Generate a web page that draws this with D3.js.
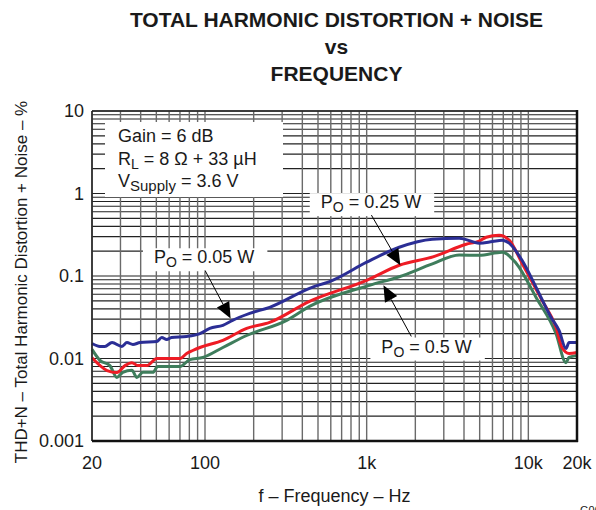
<!DOCTYPE html>
<html>
<head>
  <meta charset="utf-8">
  <title>THD+N vs Frequency</title>
  <script src="https://d3js.org/d3.v7.min.js"></script>
  <style>
    body { margin: 0; background: #fff; }
    text { font-family: "Liberation Sans", Arial, sans-serif; fill: #1a1a1a; }
  </style>
</head>
<body>
<svg class="chart"></svg>
<script>

// Chart values
const xTickValues = [20, 100, 1000, 10000, 20000];
const xTickLabels = ["20", "100", "1k", "10k", "20k"];
const yTickValues = [10, 1, 0.1, 0.01, 0.001];
const yTickLabels = ["10", "1", "0.1", "0.01", "0.001"];

// PO = 0.05 W (blue)
const blueFreq = [20, 22.4, 24, 26.6, 30.6, 32.9, 35.8, 39.6, 50.4, 54, 58, 62, 77, 93, 107, 129, 148, 189, 251, 443, 615, 1000, 1590, 2550, 3740, 4970, 6000, 6890, 7610, 9140, 11170, 13830, 15490, 17100, 17860, 20000];
const blueThd  = [0.0152, 0.014, 0.014, 0.0156, 0.014, 0.0156, 0.0148, 0.0156, 0.0161, 0.018, 0.017, 0.018, 0.0185, 0.020, 0.0232, 0.0252, 0.029, 0.0352, 0.0417, 0.0709, 0.0887, 0.147, 0.223, 0.279, 0.287, 0.25, 0.262, 0.272, 0.25, 0.155, 0.0729, 0.0315, 0.0219, 0.0132, 0.0156, 0.0156];

// PO = 0.25 W (red)
const redFreq = [20, 24.8, 28.5, 32, 35.3, 38.5, 43.7, 50.4, 70, 77, 84, 93, 129, 181, 251, 443, 1000, 1590, 2600, 4130, 4970, 5490, 6600, 7610, 9140, 12160, 14840, 16160, 17860, 20000];
const redThd  = [0.0102, 0.00715, 0.00676, 0.0082, 0.0089, 0.0082, 0.0082, 0.010, 0.010, 0.0115, 0.0125, 0.0136, 0.0166, 0.0232, 0.0274, 0.0493, 0.0887, 0.135, 0.172, 0.243, 0.265, 0.295, 0.312, 0.272, 0.143, 0.0507, 0.0238, 0.0136, 0.0115, 0.0118];

// PO = 0.5 W (green)
const greenFreq = [20, 22.4, 25.8, 28.5, 31, 35.3, 37.9, 41.3, 47.6, 51, 70, 80.5, 97, 129, 181, 320, 443, 1040, 1590, 2550, 3740, 4970, 6890, 8400, 11170, 14840, 17100, 17860, 20000];
const greenThd  = [0.0129, 0.0095, 0.0082, 0.0059, 0.0068, 0.0072, 0.0059, 0.0068, 0.0068, 0.008, 0.008, 0.0097, 0.0103, 0.0136, 0.019, 0.029, 0.0428, 0.0771, 0.098, 0.14, 0.18, 0.178, 0.194, 0.143, 0.055, 0.020, 0.0089, 0.0103, 0.0109];

// Setting the size of the page and the plot frame
const W = 596, H = 510;
const plot = {left: 92, right: 577, top: 111, bottom: 441};

const svg = d3.select(".chart")
  .attr("width", W)
  .attr("height", H);

// Log scales for both axes
const x = d3.scaleLog().domain([20, 20000]).range([plot.left, plot.right]);
const y = d3.scaleLog().domain([0.001, 10]).range([plot.bottom, plot.top]);

// Title, three lines
const titleLines = ["TOTAL HARMONIC DISTORTION + NOISE", "vs", "FREQUENCY"];
svg.selectAll(".title")
  .data(titleLines)
  .join("text")
    .attr("class", "title")
    .attr("x", (plot.left + plot.right) / 2 + 2)
    .attr("y", (d, i) => 27 + i * 27)
    .attr("text-anchor", "middle")
    .style("font-size", "21px")
    .style("font-weight", "bold")
    .text(d => d);

// Grid: horizontal lines first (dark), then vertical (grey)
svg.append("g")
  .selectAll("line")
  .data(y.ticks())
  .join("line")
    .attr("x1", plot.left).attr("x2", plot.right)
    .attr("y1", d => y(d)).attr("y2", d => y(d))
    .style("stroke", "#222")
    .style("stroke-width", 1.1);

svg.append("g")
  .selectAll("line")
  .data(x.ticks())
  .join("line")
    .attr("x1", d => x(d)).attr("x2", d => x(d))
    .attr("y1", plot.top).attr("y2", plot.bottom)
    .style("stroke", "#6a6a6a")
    .style("stroke-width", 1.4);

// Legend box with the test conditions
const cond = svg.append("g");
cond.append("rect")
  .attr("x", plot.left + 13).attr("y", plot.top + 11)
  .attr("width", 178).attr("height", 75)
  .style("fill", "#fff");
const condText = cond.append("text").style("font-size", "18px");
condText.append("tspan").attr("x", plot.left + 26).attr("y", plot.top + 31).text("Gain = 6 dB");
const rl = condText.append("tspan").attr("x", plot.left + 26).attr("y", plot.top + 54);
rl.append("tspan").text("R");
rl.append("tspan").attr("dy", 4).style("font-size", "14px").text("L");
rl.append("tspan").attr("dy", -4).text(" = 8 \u03A9 + 33 \u00B5H");
const vs = condText.append("tspan").attr("x", plot.left + 26).attr("y", plot.top + 76);
vs.append("tspan").text("V");
vs.append("tspan").attr("dy", 4).style("font-size", "15px").text("Supply");
vs.append("tspan").attr("dy", -4).text(" = 3.6 V");

// The three curves
const series = [
  {freq: greenFreq, thd: greenThd, color: "#3f7d5c"},
  {freq: redFreq, thd: redThd, color: "#ee1c25"},
  {freq: blueFreq, thd: blueThd, color: "#2b2e95"}
];
const line = d3.line()
  .x(d => x(d[0]))
  .y(d => y(d[1]))
  .curve(d3.curveMonotoneX);

svg.append("g")
  .selectAll("path")
  .data(series)
  .join("path")
    .attr("d", s => line(s.freq.map((f, i) => [f, s.thd[i]])))
    .style("fill", "none")
    .style("stroke", s => s.color)
    .style("stroke-width", 3)
    .style("stroke-linejoin", "round");

// Annotations: label point, arrow start and arrow tip in data units
const annotations = [
  {label: "0.05 W", at: [48.3, 0.1427], from: [100, 0.117], tip: [144, 0.0306]},
  {label: "0.25 W", at: [520, 0.665], from: [1070, 0.547], tip: [1615, 0.135]},
  {label: "0.5 W", at: [1233, 0.0118], from: [1889, 0.0185], tip: [1270, 0.0771]}
];

annotations.forEach(a => {
  const g = svg.append("g");
  const bg = g.append("rect").style("fill", "#fff");
  const t = g.append("text")
    .attr("x", x(a.at[0]))
    .attr("y", y(a.at[1]))
    .style("font-size", "18px");
  t.append("tspan").text("P");
  t.append("tspan").attr("dy", 4).style("font-size", "14px").text("O");
  t.append("tspan").attr("dy", -4).text(" = " + a.label);
  const bb = t.node().getBBox();
  bg.attr("x", bb.x - 11).attr("y", bb.y + 1)
    .attr("width", bb.width + 24).attr("height", bb.height);

  // arrow line and filled head
  const x0 = x(a.from[0]), y0 = y(a.from[1]);
  const x1 = x(a.tip[0]), y1 = y(a.tip[1]);
  const len = Math.hypot(x1 - x0, y1 - y0);
  const ux = (x1 - x0) / len, uy = (y1 - y0) / len;
  const hl = 16, hw = 7;
  const bx = x1 - ux * hl, by = y1 - uy * hl;
  g.append("line")
    .attr("x1", x0).attr("y1", y0).attr("x2", bx).attr("y2", by)
    .style("stroke", "#000").style("stroke-width", 1);
  g.append("path")
    .attr("d", `M${x1},${y1}L${bx - uy * hw},${by + ux * hw}L${bx + uy * hw},${by - ux * hw}Z`)
    .style("fill", "#000");
});

// Frame
svg.append("line").attr("x1", plot.left).attr("x2", plot.right).attr("y1", plot.top).attr("y2", plot.top)
  .style("stroke", "#222").style("stroke-width", 1.5);
svg.append("line").attr("x1", plot.left).attr("x2", plot.left).attr("y1", plot.top).attr("y2", plot.bottom)
  .style("stroke", "#222").style("stroke-width", 1.5);
svg.append("line").attr("x1", plot.right).attr("x2", plot.right).attr("y1", plot.top - 1).attr("y2", plot.bottom + 1)
  .style("stroke", "#111").style("stroke-width", 2.5);
svg.append("line").attr("x1", plot.left).attr("x2", plot.right + 1).attr("y1", plot.bottom).attr("y2", plot.bottom)
  .style("stroke", "#111").style("stroke-width", 2.5);

// Axis tick labels
svg.append("g")
  .selectAll("text")
  .data(xTickValues)
  .join("text")
    .attr("x", d => x(d))
    .attr("y", 469)
    .attr("text-anchor", "middle")
    .style("font-size", "18px")
    .text((d, i) => xTickLabels[i]);

svg.append("g")
  .selectAll("text")
  .data(yTickValues)
  .join("text")
    .attr("x", plot.left - 8)
    .attr("y", d => y(d) + 6)
    .attr("text-anchor", "end")
    .style("font-size", "18px")
    .text((d, i) => yTickLabels[i]);

// Axis titles
svg.append("text")
  .attr("x", (plot.left + plot.right) / 2)
  .attr("y", 502)
  .attr("text-anchor", "middle")
  .style("font-size", "18px")
  .text("f \u2013 Frequency \u2013 Hz");

svg.append("text")
  .attr("transform", `translate(27, ${(plot.top + plot.bottom) / 2 + 6}) rotate(-90)`)
  .attr("text-anchor", "middle")
  .style("font-size", "17px")
  .text("THD+N \u2013 Total Harmonic Distortion + Noise \u2013 %");

// figure id in the corner, cut by the page edge as in the source
svg.append("text")
  .attr("x", 580)
  .attr("y", 514)
  .style("font-size", "11px")
  .text("G007");

</script>
</body>
</html>
